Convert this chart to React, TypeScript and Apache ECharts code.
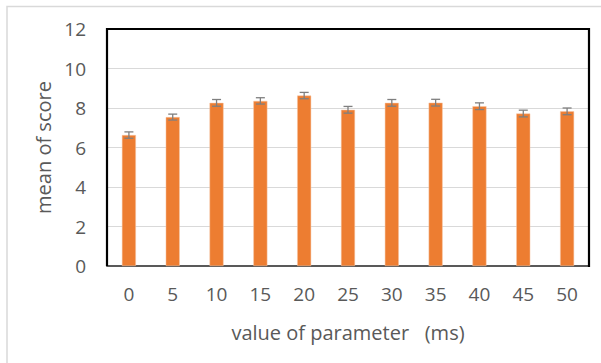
import React, { useEffect, useRef } from "react";
import * as echarts from "echarts";

const categories = ["0", "5", "10", "15", "20", "25", "30", "35", "40", "45", "50"];
const means = [6.63, 7.54, 8.26, 8.36, 8.63, 7.91, 8.26, 8.27, 8.09, 7.72, 7.83];
const errors = [0.16, 0.15, 0.17, 0.16, 0.16, 0.17, 0.17, 0.17, 0.17, 0.17, 0.17];
const yTicks = { min: 0, max: 12, interval: 2 };

const FONT = "'Open Sans', sans-serif";
const TXT = "#595959";

export default function App() {
  const ref = useRef<HTMLDivElement>(null);
  useEffect(() => {
    if (!ref.current) return;
    const chart = echarts.init(ref.current, undefined, { renderer: "svg" });
    const errData = means.map((m, i) => [i, m - errors[i], m + errors[i]]);
    const L = 107, T = 29, W = 482, H = 237;
    chart.setOption({
      animation: false,
      backgroundColor: "#ffffff",
      graphic: [
        {
          type: "rect",
          shape: { x: 7, y: 6.5, width: 700, height: 500 },
          style: { fill: "none", stroke: "#d9d9d9", lineWidth: 1.5 },
          silent: true,
        },
        {
          type: "polyline",
          z: 100,
          shape: { points: [[L, T + H], [L, T], [L + W, T], [L + W, T + H + 1]] },
          style: { fill: "none", stroke: "#000000", lineWidth: 2.2 },
          silent: true,
        },
      ],
      grid: { left: L, top: T, width: W, height: H },
      xAxis: {
        type: "category",
        data: categories,
        name: "value of parameter   (ms)",
        nameLocation: "middle",
        nameGap: 56,
        nameTextStyle: { fontFamily: FONT, fontSize: 20, color: TXT },
        axisLine: { show: true, lineStyle: { color: "#595959", width: 2 } },
        axisTick: { show: false },
        axisLabel: { fontFamily: FONT, fontSize: 19, color: TXT, margin: 18 },
      },
      yAxis: {
        type: "value",
        min: yTicks.min,
        max: yTicks.max,
        interval: yTicks.interval,
        name: "mean of score",
        nameLocation: "middle",
        nameGap: 52,
        nameTextStyle: { fontFamily: FONT, fontSize: 20, color: TXT },
        axisLine: { show: false },
        axisTick: { show: false },
        axisLabel: { fontFamily: FONT, fontSize: 19, color: TXT, margin: 21 },
        splitLine: { show: true, lineStyle: { color: "#d9d9d9", width: 1 } },
      },
      series: [
        {
          type: "bar",
          data: means,
          barWidth: 14,
          itemStyle: { color: "#ED7D31", borderColor: "#f7c6a6", borderWidth: 0.5 },
        },
        {
          type: "custom",
          data: errData,
          z: 10,
          renderItem: (params: any, api: any) => {
            const i = api.value(0);
            const lo = api.coord([i, api.value(1)]);
            const hi = api.coord([i, api.value(2)]);
            const hw = 4.5;
            const style = { stroke: "#7f7f7f", lineWidth: 1.3 };
            return {
              type: "group",
              children: [
                { type: "line", shape: { x1: hi[0], y1: hi[1], x2: lo[0], y2: lo[1] }, style },
                { type: "line", shape: { x1: hi[0] - hw, y1: hi[1], x2: hi[0] + hw, y2: hi[1] }, style },
                { type: "line", shape: { x1: lo[0] - hw, y1: lo[1], x2: lo[0] + hw, y2: lo[1] }, style },
              ],
            };
          },
        },
      ],
    });
    return () => chart.dispose();
  }, []);
  return (
    <div
      ref={ref}
      style={{ position: "absolute", left: 0, top: 0, width: 601, height: 363 }}
    />
  );
}
